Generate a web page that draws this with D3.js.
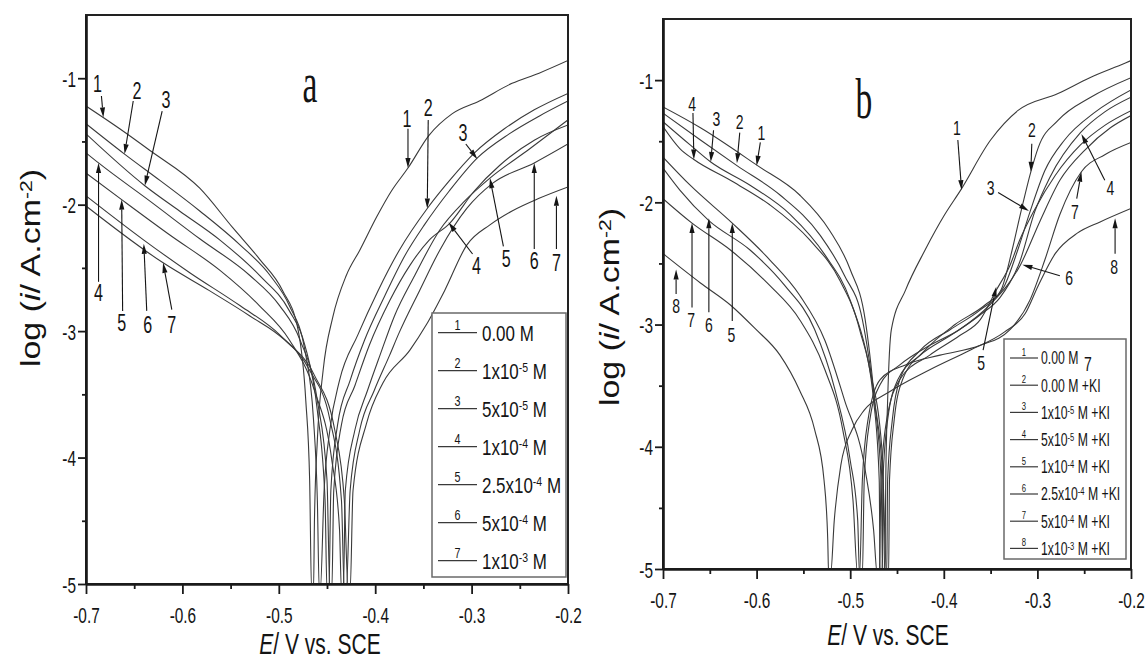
<!DOCTYPE html>
<html><head><meta charset="utf-8">
<script src="https://cdn.jsdelivr.net/npm/d3@7/dist/d3.min.js"></script>
<style>
html,body{margin:0;padding:0;background:#fff;}
svg{display:block;}
text{font-family:"Liberation Sans",Arial,sans-serif;fill:#141414;}
</style></head><body>
<svg id="chart" width="1148" height="660"></svg>
<script>
// ---------------- DATA ----------------
const xTicks = [-0.7, -0.6, -0.5, -0.4, -0.3, -0.2];
const xTickLabels = ["-0.7", "-0.6", "-0.5", "-0.4", "-0.3", "-0.2"];
const xMinorTicks = [-0.65, -0.55, -0.45, -0.35, -0.25];
const yTicks = [-5, -4, -3, -2, -1];
const yTickLabels = ["-5", "-4", "-3", "-2", "-1"];
const yMinorTicks = [-4.5, -3.5, -2.5, -1.5];

const legendLabelsA = ["0.00 M", "1x10^-5 M", "5x10^-5 M", "1x10^-4 M", "2.5x10^-4 M", "5x10^-4 M", "1x10^-3 M"];
const legendLabelsB = ["0.00 M", "0.00 M +KI", "1x10^-5 M +KI", "5x10^-5 M +KI", "1x10^-4 M +KI", "2.5x10^-4 M +KI", "5x10^-4 M +KI", "1x10^-3 M +KI"];

// panel a : [E (V vs SCE), log i]
const curveA1 = [[-0.700,-1.22],[-0.665,-1.40],[-0.634,-1.57],[-0.582,-1.87],[-0.548,-2.18],[-0.520,-2.43],[-0.496,-2.68],[-0.480,-2.99],[-0.472,-3.55],[-0.468,-4.18],[-0.466,-5.05],
  [-0.464,-5.05],[-0.463,-4.49],[-0.460,-3.86],[-0.454,-3.31],[-0.444,-2.89],[-0.430,-2.56],[-0.416,-2.36],[-0.398,-2.09],[-0.383,-1.89],[-0.366,-1.71],[-0.344,-1.45],[-0.320,-1.28],[-0.292,-1.18],[-0.258,-1.04],[-0.230,-0.96],[-0.200,-0.86]];
const curveA2 = [[-0.700,-1.36],[-0.660,-1.60],[-0.623,-1.81],[-0.582,-2.05],[-0.540,-2.32],[-0.509,-2.56],[-0.489,-2.80],[-0.473,-3.15],[-0.464,-3.70],[-0.460,-4.34],[-0.458,-5.05],
  [-0.457,-5.05],[-0.453,-4.26],[-0.447,-3.78],[-0.437,-3.39],[-0.418,-3.03],[-0.397,-2.68],[-0.375,-2.36],[-0.346,-2.03],[-0.323,-1.81],[-0.297,-1.59],[-0.266,-1.40],[-0.235,-1.25],[-0.200,-1.12]];
const curveA3 = [[-0.700,-1.44],[-0.639,-1.85],[-0.603,-2.05],[-0.561,-2.28],[-0.520,-2.56],[-0.489,-2.84],[-0.473,-3.11],[-0.460,-3.63],[-0.452,-4.34],[-0.450,-5.05],
  [-0.448,-5.05],[-0.446,-4.26],[-0.439,-3.74],[-0.426,-3.39],[-0.411,-3.07],[-0.390,-2.72],[-0.369,-2.40],[-0.349,-2.16],[-0.323,-1.89],[-0.294,-1.63],[-0.261,-1.44],[-0.230,-1.30],[-0.200,-1.18]];
const curveA4 = [[-0.700,-1.59],[-0.687,-1.67],[-0.634,-1.97],[-0.582,-2.27],[-0.530,-2.56],[-0.499,-2.80],[-0.478,-3.07],[-0.460,-3.55],[-0.450,-4.18],[-0.447,-5.05],
  [-0.445,-5.05],[-0.443,-4.26],[-0.435,-3.74],[-0.421,-3.43],[-0.406,-3.11],[-0.385,-2.76],[-0.364,-2.48],[-0.344,-2.28],[-0.323,-2.15],[-0.297,-1.89],[-0.271,-1.69],[-0.235,-1.49],[-0.200,-1.37]];
const curveA5 = [[-0.700,-1.75],[-0.663,-1.96],[-0.613,-2.24],[-0.561,-2.52],[-0.520,-2.80],[-0.489,-3.07],[-0.463,-3.47],[-0.445,-4.02],[-0.437,-4.57],[-0.435,-5.05],
  [-0.433,-5.05],[-0.431,-4.26],[-0.421,-3.78],[-0.408,-3.47],[-0.395,-3.19],[-0.380,-2.88],[-0.359,-2.56],[-0.333,-2.20],[-0.307,-1.97],[-0.281,-1.79],[-0.240,-1.56],[-0.200,-1.33]];
const curveA6 = [[-0.700,-1.93],[-0.640,-2.28],[-0.592,-2.54],[-0.540,-2.80],[-0.499,-3.03],[-0.468,-3.31],[-0.447,-3.70],[-0.435,-4.34],[-0.432,-5.05],
  [-0.430,-5.05],[-0.426,-4.26],[-0.416,-3.78],[-0.401,-3.47],[-0.385,-3.19],[-0.375,-3.01],[-0.354,-2.68],[-0.333,-2.36],[-0.305,-2.03],[-0.278,-1.83],[-0.235,-1.67],[-0.200,-1.52]];
const curveA7 = [[-0.700,-2.01],[-0.620,-2.46],[-0.572,-2.68],[-0.530,-2.88],[-0.494,-3.07],[-0.463,-3.35],[-0.442,-3.78],[-0.432,-4.34],[-0.428,-5.05],
  [-0.426,-5.05],[-0.423,-4.26],[-0.409,-3.73],[-0.392,-3.41],[-0.364,-3.15],[-0.347,-2.95],[-0.328,-2.68],[-0.305,-2.32],[-0.281,-2.16],[-0.258,-2.05],[-0.230,-1.95],[-0.200,-1.86]];

// panel b
const curveB1 = [[-0.700,-1.22],[-0.660,-1.39],[-0.599,-1.70],[-0.554,-1.94],[-0.522,-2.23],[-0.500,-2.55],[-0.484,-2.96],[-0.474,-3.62],[-0.467,-4.27],[-0.465,-5.05],
  [-0.463,-5.05],[-0.462,-4.27],[-0.460,-3.62],[-0.456,-3.04],[-0.441,-2.72],[-0.420,-2.39],[-0.399,-2.10],[-0.382,-1.90],[-0.350,-1.49],[-0.321,-1.25],[-0.278,-1.11],[-0.244,-0.98],[-0.206,-0.86],[-0.200,-0.84]];
const curveB2 = [[-0.700,-1.27],[-0.660,-1.49],[-0.621,-1.70],[-0.575,-1.94],[-0.532,-2.27],[-0.506,-2.60],[-0.487,-2.96],[-0.474,-3.62],[-0.465,-4.27],[-0.463,-5.05],
  [-0.461,-5.05],[-0.460,-4.27],[-0.455,-3.78],[-0.447,-3.45],[-0.425,-3.21],[-0.393,-3.04],[-0.361,-2.88],[-0.339,-2.72],[-0.327,-2.39],[-0.318,-2.09],[-0.307,-1.75],[-0.299,-1.55],[-0.278,-1.33],[-0.243,-1.14],[-0.200,-0.98]];
const curveB3 = [[-0.700,-1.34],[-0.671,-1.53],[-0.649,-1.67],[-0.607,-1.86],[-0.564,-2.10],[-0.527,-2.43],[-0.500,-2.80],[-0.479,-3.37],[-0.466,-4.03],[-0.461,-5.05],
  [-0.459,-5.05],[-0.458,-4.27],[-0.453,-3.78],[-0.444,-3.45],[-0.420,-3.21],[-0.388,-3.00],[-0.356,-2.84],[-0.335,-2.68],[-0.321,-2.39],[-0.308,-2.08],[-0.292,-1.74],[-0.271,-1.49],[-0.238,-1.26],[-0.200,-1.08]];
const curveB4 = [[-0.700,-1.38],[-0.682,-1.56],[-0.667,-1.65],[-0.628,-1.82],[-0.586,-2.02],[-0.543,-2.31],[-0.511,-2.64],[-0.490,-3.04],[-0.475,-3.62],[-0.469,-4.27],[-0.468,-5.05],
  [-0.466,-5.05],[-0.465,-4.27],[-0.460,-3.78],[-0.449,-3.45],[-0.425,-3.25],[-0.393,-3.09],[-0.361,-2.92],[-0.340,-2.78],[-0.319,-2.49],[-0.303,-2.08],[-0.287,-1.80],[-0.254,-1.43],[-0.228,-1.26],[-0.200,-1.14]];
const curveB5 = [[-0.700,-1.63],[-0.671,-1.86],[-0.626,-2.17],[-0.586,-2.47],[-0.554,-2.76],[-0.527,-3.13],[-0.506,-3.62],[-0.484,-4.19],[-0.475,-4.68],[-0.471,-5.05],
  [-0.469,-5.05],[-0.467,-4.27],[-0.461,-3.78],[-0.447,-3.45],[-0.415,-3.25],[-0.383,-3.09],[-0.361,-2.96],[-0.344,-2.72],[-0.329,-2.51],[-0.319,-2.31],[-0.303,-2.06],[-0.281,-1.78],[-0.254,-1.53],[-0.228,-1.37],[-0.200,-1.25]];
const curveB6 = [[-0.700,-1.72],[-0.682,-1.90],[-0.651,-2.15],[-0.607,-2.39],[-0.570,-2.68],[-0.538,-3.04],[-0.516,-3.54],[-0.500,-4.11],[-0.492,-4.60],[-0.490,-5.05],
  [-0.487,-5.05],[-0.485,-4.27],[-0.479,-3.78],[-0.468,-3.49],[-0.447,-3.33],[-0.415,-3.17],[-0.383,-3.04],[-0.351,-2.84],[-0.318,-2.51],[-0.297,-2.15],[-0.276,-1.82],[-0.249,-1.57],[-0.222,-1.39],[-0.200,-1.29]];
const curveB7 = [[-0.700,-1.97],[-0.669,-2.17],[-0.628,-2.39],[-0.586,-2.68],[-0.554,-2.96],[-0.527,-3.37],[-0.508,-3.86],[-0.497,-4.44],[-0.492,-5.05],
  [-0.490,-5.05],[-0.487,-4.27],[-0.481,-3.78],[-0.468,-3.45],[-0.441,-3.33],[-0.404,-3.25],[-0.361,-3.17],[-0.329,-3.04],[-0.308,-2.80],[-0.292,-2.47],[-0.276,-2.10],[-0.253,-1.75],[-0.228,-1.61],[-0.200,-1.51]];
const curveB8 = [[-0.700,-2.42],[-0.660,-2.66],[-0.628,-2.84],[-0.602,-3.03],[-0.575,-3.25],[-0.554,-3.54],[-0.538,-3.86],[-0.528,-4.27],[-0.524,-4.76],[-0.523,-5.05],
  [-0.521,-5.05],[-0.517,-4.60],[-0.510,-4.15],[-0.498,-3.86],[-0.485,-3.70],[-0.458,-3.55],[-0.415,-3.37],[-0.372,-3.21],[-0.335,-3.06],[-0.313,-2.91],[-0.299,-2.68],[-0.281,-2.42],[-0.257,-2.25],[-0.233,-2.16],[-0.200,-2.05]];

// curve number annotations: [text, labelE, labelLog, fromE, fromLog, toE, toLog]
const notesA = [
  ["1",-0.688,-1.04,-0.684,-1.14,-0.682,-1.31],
  ["2",-0.647,-1.10,-0.651,-1.18,-0.660,-1.60],
  ["3",-0.617,-1.17,-0.621,-1.26,-0.639,-1.85],
  ["4",-0.687,-2.70,-0.687,-2.61,-0.687,-1.67],
  ["5",-0.663,-2.93,-0.662,-2.84,-0.663,-1.96],
  ["6",-0.636,-2.95,-0.637,-2.84,-0.640,-2.31],
  ["7",-0.611,-2.95,-0.611,-2.83,-0.620,-2.46],
  ["1",-0.367,-1.32,-0.366,-1.40,-0.366,-1.71],
  ["2",-0.345,-1.23,-0.345,-1.33,-0.346,-2.03],
  ["3",-0.309,-1.43,-0.306,-1.52,-0.294,-1.64],
  ["4",-0.295,-2.48,-0.299,-2.39,-0.324,-2.14],
  ["5",-0.264,-2.43,-0.267,-2.33,-0.281,-1.79],
  ["6",-0.235,-2.44,-0.235,-2.35,-0.235,-1.67],
  ["7",-0.212,-2.46,-0.212,-2.35,-0.212,-1.93]
];
const notesB = [
  ["4",-0.669,-1.19,-0.668,-1.27,-0.667,-1.65],
  ["3",-0.643,-1.32,-0.646,-1.41,-0.649,-1.67],
  ["2",-0.618,-1.34,-0.618,-1.43,-0.621,-1.68],
  ["1",-0.595,-1.43,-0.596,-1.51,-0.600,-1.70],
  ["8",-0.686,-2.85,-0.686,-2.75,-0.686,-2.55],
  ["7",-0.670,-2.96,-0.669,-2.86,-0.669,-2.17],
  ["6",-0.651,-3.00,-0.651,-2.90,-0.651,-2.13],
  ["5",-0.627,-3.08,-0.626,-2.97,-0.626,-2.17],
  ["1",-0.386,-1.39,-0.385,-1.49,-0.381,-1.90],
  ["2",-0.306,-1.41,-0.306,-1.52,-0.307,-1.75],
  ["3",-0.350,-1.88,-0.342,-1.92,-0.309,-2.07],
  ["4",-0.222,-1.88,-0.228,-1.82,-0.253,-1.44],
  ["7",-0.260,-2.08,-0.258,-1.97,-0.253,-1.75],
  ["8",-0.218,-2.53,-0.217,-2.42,-0.217,-2.13],
  ["6",-0.266,-2.62,-0.276,-2.60,-0.316,-2.51],
  ["5",-0.360,-3.31,-0.358,-3.21,-0.344,-2.69],
  ["7",-0.246,-3.32,null,null,null,null]
];

// ---------------- LAYOUT ----------------
const panels = [
  { letter:"a", curves:[curveA1,curveA2,curveA3,curveA4,curveA5,curveA6,curveA7], notes:notesA, legend:legendLabelsA,
    x0:86, x1:568, y0:15, y1:584, noteSize:23,
    letterPos:[310,102], yTitle:[30,268], xTitle:[320,654],
    lg:{x:432,y:313,w:134,h:264,first:332.7,step:38,l0:438,l1:477,tx:482,fs:22,ns:14,sx:0.77,noff:8} },
  { letter:"b", curves:[curveB1,curveB2,curveB3,curveB4,curveB5,curveB6,curveB7,curveB8], notes:notesB, legend:legendLabelsB,
    x0:663, x1:1131, y0:19, y1:569, noteSize:20,
    letterPos:[864,118], yTitle:[609,307], xTitle:[888,645],
    lg:{x:1004,y:339,w:122,h:220,first:358,step:27.2,l0:1010,l1:1038,tx:1041,fs:17.5,ns:11,sx:0.7,noff:6} }
];
const SX = 0.7; // condensed text

const svg = d3.select("#chart");

function addRich(t, str) {
  const m = str.match(/^(.*?)\^(\S+)(.*)$/);
  if (!m) { t.text(str); return; }
  t.append("tspan").text(m[1]);
  t.append("tspan").attr("dy","-0.45em").attr("font-size","0.62em").text(m[2]);
  t.append("tspan").attr("dy","0.279em").text(m[3]);
}

panels.forEach((p, pi) => {
  const x = d3.scaleLinear().domain([-0.7, -0.2]).range([p.x0, p.x1]);
  const y = d3.scaleLinear().domain([-5, -0.5]).range([p.y1, p.y0]);
  const g = svg.append("g");
  const clipId = "clip" + pi;
  svg.append("clipPath").attr("id", clipId).append("rect")
    .attr("x", p.x0).attr("y", p.y0).attr("width", p.x1 - p.x0).attr("height", p.y1 - p.y0);

  // curves
  const line = d3.line().x(d => x(d[0])).y(d => y(d[1])).curve(d3.curveMonotoneX);
  g.append("g").attr("clip-path", `url(#${clipId})`).selectAll("path").data(p.curves).join("path")
    .attr("d", line).attr("fill", "none").attr("stroke", "#3a3a3a").attr("stroke-width", 1.1);

  // frame
  g.append("rect").attr("x", p.x0).attr("y", p.y0).attr("width", p.x1 - p.x0).attr("height", p.y1 - p.y0)
    .attr("fill", "none").attr("stroke", "#222").attr("stroke-width", 2);

  // axes
  const xa = g.append("g").attr("transform", `translate(0,${p.y1})`)
    .call(d3.axisBottom(x).tickValues(xTicks).tickSize(10).tickSizeOuter(0)
      .tickFormat((d, i) => xTickLabels[i]));
  xa.select(".domain").attr("stroke", "#1a1a1a").attr("stroke-width", 2.6);
  xa.selectAll(".tick line").attr("stroke", "#1a1a1a").attr("stroke-width", 1.8);
  xa.selectAll(".tick text").attr("y", 39).attr("dy", null).attr("font-size", 22)
    .attr("transform", `scale(${SX},1)`).attr("fill", "#141414");
  const xm = g.append("g").attr("transform", `translate(0,${p.y1})`)
    .call(d3.axisBottom(x).tickValues(xMinorTicks).tickSize(5).tickSizeOuter(0).tickFormat(""));
  xm.select(".domain").remove();
  xm.selectAll(".tick line").attr("stroke", "#1a1a1a").attr("stroke-width", 1.8);

  const ya = g.append("g").attr("transform", `translate(${p.x0},0)`)
    .call(d3.axisLeft(y).tickValues(yTicks).tickSize(8).tickSizeOuter(0)
      .tickFormat((d, i) => yTickLabels[i]));
  ya.select(".domain").attr("stroke", "#1a1a1a").attr("stroke-width", 2.6);
  ya.selectAll(".tick line").attr("stroke", "#1a1a1a").attr("stroke-width", 1.8);
  ya.selectAll(".tick text").attr("x", -10 / SX).attr("dy", null).attr("y", 8).attr("font-size", 22)
    .attr("transform", `scale(${SX},1)`).attr("fill", "#141414");
  const ym = g.append("g").attr("transform", `translate(${p.x0},0)`)
    .call(d3.axisLeft(y).tickValues(yMinorTicks).tickSize(4).tickSizeOuter(0).tickFormat(""));
  ym.select(".domain").remove();
  ym.selectAll(".tick line").attr("stroke", "#1a1a1a").attr("stroke-width", 1.8);

  // axis titles
  const yt = g.append("text").attr("transform", `translate(${p.yTitle[0]},${p.yTitle[1]}) rotate(-90) scale(1,0.82)`)
    .attr("text-anchor", "middle").attr("font-size", 34).attr("dy", "0.35em");
  yt.append("tspan").text("log (");
  yt.append("tspan").attr("font-style", "italic").text("i");
  yt.append("tspan").text("/ A.cm");
  yt.append("tspan").attr("dy", "-0.45em").attr("font-size", "0.62em").text("-2");
  yt.append("tspan").attr("dy", "0.279em").text(")");

  const xt = g.append("text").attr("transform", `translate(${p.xTitle[0]},${p.xTitle[1]}) scale(${SX},1)`)
    .attr("text-anchor", "middle").attr("font-size", 30);
  xt.append("tspan").attr("font-style", "italic").text("E");
  xt.append("tspan").text("/ V vs. SCE");

  // panel letter
  g.append("text").attr("transform", `translate(${p.letterPos[0]},${p.letterPos[1]}) scale(0.6,1)`)
    .attr("text-anchor", "middle").attr("font-size", 56)
    .style("font-family", "'Liberation Serif','Times New Roman',serif").text(p.letter);

  // legend
  const L = p.lg;
  g.append("rect").attr("x", L.x).attr("y", L.y).attr("width", L.w).attr("height", L.h)
    .attr("fill", "#fff").attr("stroke", "#6a6a6a").attr("stroke-width", 1.5);
  p.legend.forEach((lab, i) => {
    const ly = L.first + i * L.step;
    g.append("line").attr("x1", L.l0).attr("x2", L.l1).attr("y1", ly).attr("y2", ly)
      .attr("stroke", "#3a3a3a").attr("stroke-width", 1.2);
    g.append("text").attr("transform", `translate(${(L.l0 + L.l1) / 2},${ly - L.noff + L.ns * 0.36}) scale(${L.sx},1)`)
      .attr("text-anchor", "middle").attr("font-size", L.ns).text(String(i + 1));
    const t = g.append("text").attr("transform", `translate(${L.tx},${ly + L.fs * 0.36}) scale(${L.sx},1)`)
      .attr("font-size", L.fs);
    addRich(t, lab);
  });

  // annotations
  p.notes.forEach(n => {
    const [s, le, ll, fe, fl, te, tl] = n;
    g.append("text").attr("transform", `translate(${x(le)},${y(ll) + p.noteSize * 0.36}) scale(${SX},1)`)
      .attr("text-anchor", "middle").attr("font-size", p.noteSize).text(s);
    if (fe === null) return;
    const ax = x(fe), ay = y(fl), bx = x(te), by = y(tl);
    const dx = bx - ax, dy = by - ay, len = Math.hypot(dx, dy);
    const ux = dx / len, uy = dy / len, hl = 10, hw = 2.6;
    const baseX = bx - ux * hl, baseY = by - uy * hl;
    g.append("line").attr("x1", ax).attr("y1", ay).attr("x2", baseX).attr("y2", baseY)
      .attr("stroke", "#151515").attr("stroke-width", 1.1);
    g.append("path").attr("d",
      `M${bx},${by}L${baseX - uy * hw},${baseY + ux * hw}L${baseX + uy * hw},${baseY - ux * hw}Z`)
      .attr("fill", "#151515");
  });
});
</script>
</body></html>
